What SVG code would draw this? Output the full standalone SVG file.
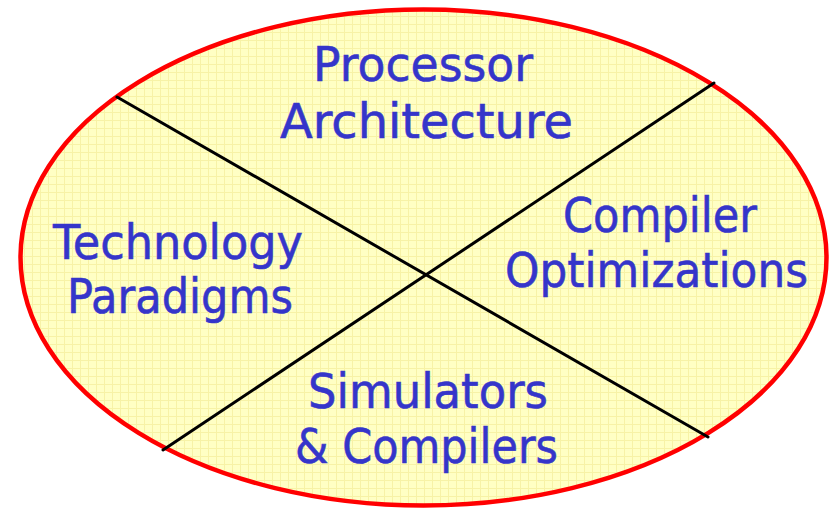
<svg xmlns="http://www.w3.org/2000/svg" width="830" height="509" viewBox="0 0 830 509">
  <defs>
    <pattern id="grid" width="8" height="8" patternUnits="userSpaceOnUse">
      <rect width="8" height="8" fill="#FFFFC4"/>
      <path d="M0 0.5H8M0.5 0V8" stroke="#F7F2A6" stroke-width="1" fill="none"/>
    </pattern>
    <style>
      .lbl { font-family: "DejaVu Sans", "Liberation Sans", sans-serif; font-size: 48px; fill: #3535CA; stroke: #3535CA; stroke-width: 0.6px; }
      .div { stroke: #000000; stroke-width: 3; stroke-linecap: round; }
    </style>
  </defs>
  <rect width="830" height="509" fill="#FFFFFF"/>
  <g id="ellipse">
    <ellipse cx="423.5" cy="257.5" rx="403" ry="248" fill="url(#grid)" stroke="#FF0000" stroke-width="4.5"/>
  </g>
  <g id="connectors">
    <line class="div" x1="117" y1="97" x2="708" y2="437"/>
    <line class="div" x1="163" y1="450" x2="714" y2="83"/>
  </g>
  <g id="processor-architecture">
    <text class="lbl" x="313" y="81" textLength="220" lengthAdjust="spacingAndGlyphs">Processor</text>
    <text class="lbl" x="280" y="138" textLength="293" lengthAdjust="spacingAndGlyphs">Architecture</text>
  </g>
  <g id="compiler-optimizations">
    <text class="lbl" x="563" y="232" textLength="194" lengthAdjust="spacingAndGlyphs">Compiler</text>
    <text class="lbl" x="505" y="287" textLength="303" lengthAdjust="spacingAndGlyphs">Optimizations</text>
  </g>
  <g id="technology-paradigms">
    <text class="lbl" x="53" y="259" textLength="250" lengthAdjust="spacingAndGlyphs">Technology</text>
    <text class="lbl" x="67" y="313" textLength="226" lengthAdjust="spacingAndGlyphs">Paradigms</text>
  </g>
  <g id="simulators-compilers">
    <text class="lbl" x="308" y="408" textLength="240" lengthAdjust="spacingAndGlyphs">Simulators</text>
    <text class="lbl" x="295" y="463" textLength="263" lengthAdjust="spacingAndGlyphs">&amp; Compilers</text>
  </g>
</svg>
